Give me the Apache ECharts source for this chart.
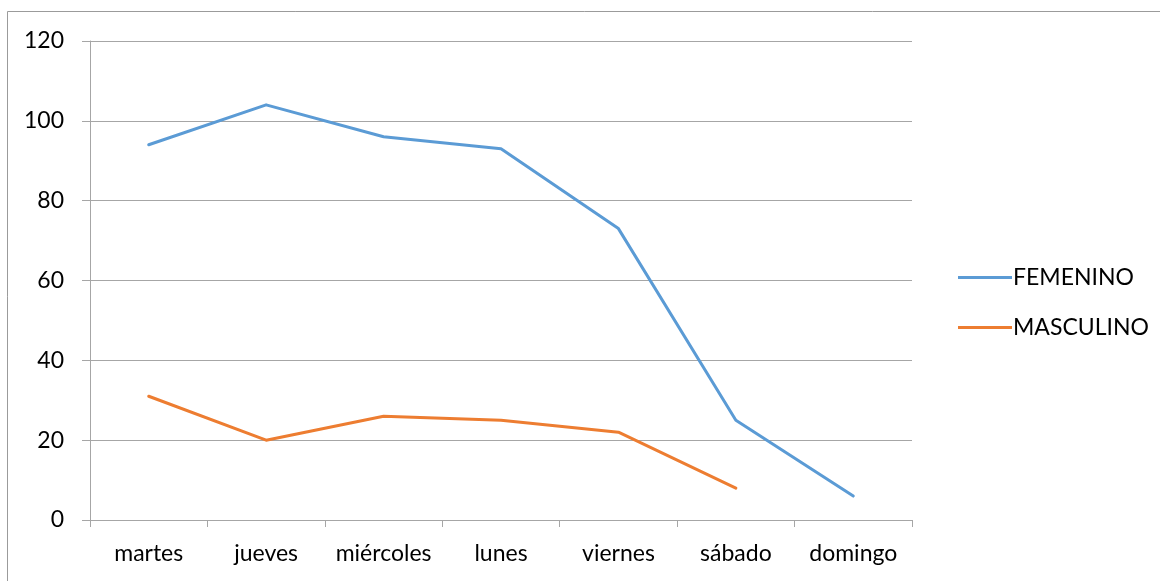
<!DOCTYPE html>
<html>
<head>
<meta charset="utf-8">
<script src="https://cdn.jsdelivr.net/npm/echarts@6/dist/echarts.min.js"></script>
<style>
  html, body { margin: 0; padding: 0; background: #fff; }
  #chart { width: 1160px; height: 581px; }
</style>
</head>
<body>
<div id="chart"></div>
<script>
// Days of the week, in the order they are plotted
const categories = ['martes', 'jueves', 'miércoles', 'lunes', 'viernes', 'sábado', 'domingo'];
const femenino = [94, 104, 96, 93, 73, 25, 6];
const masculino = [31, 20, 26, 25, 22, 8, null];
const yTicks = { min: 0, max: 120, interval: 20 };

const FONT = 'Lato, "Open Sans", sans-serif';
const FONT_SIZE = 23;
const GRID_COLOR = '#a6a6a6';

const chart = echarts.init(document.getElementById('chart'), null, { renderer: 'canvas' });

chart.setOption({
  backgroundColor: '#ffffff',
  animation: false,
  textStyle: { fontFamily: FONT },
  graphic: [{
    type: 'rect',
    shape: { x: 7.5, y: 11.5, width: 1200, height: 700 },
    style: { fill: 'none', stroke: '#9b9b9b', lineWidth: 1 },
    silent: true
  }],
  grid: { left: 90, top: 41, width: 822, height: 479, containLabel: false },
  legend: {
    orient: 'vertical',
    left: 953,
    top: 261,
    itemWidth: 54,
    itemHeight: 3,
    itemGap: 27,
    icon: 'rect',
    textStyle: { fontFamily: FONT, fontSize: FONT_SIZE, color: '#000', padding: [0, 0, 0, -4] },
    data: ['FEMENINO', 'MASCULINO']
  },
  xAxis: {
    type: 'category',
    data: categories,
    boundaryGap: true,
    axisLine: { lineStyle: { color: GRID_COLOR, width: 1 } },
    axisTick: { show: true, interval: 0, length: 7, inside: false, lineStyle: { color: GRID_COLOR } },
    axisLabel: { interval: 0, hideOverlap: false, color: '#000', fontSize: FONT_SIZE, fontFamily: FONT, margin: 22 },
    splitLine: { show: false }
  },
  yAxis: {
    type: 'value',
    min: yTicks.min,
    max: yTicks.max,
    interval: yTicks.interval,
    axisLine: { show: true, lineStyle: { color: GRID_COLOR, width: 1 } },
    axisTick: { show: true, length: 8, lineStyle: { color: GRID_COLOR } },
    axisLabel: { color: '#000', fontSize: FONT_SIZE, fontFamily: FONT, margin: 26 },
    splitLine: { show: true, lineStyle: { color: GRID_COLOR, width: 1 } }
  },
  series: [
    {
      name: 'FEMENINO',
      type: 'line',
      data: femenino,
      color: '#5b9bd5',
      showSymbol: false,
      symbol: 'none',
      lineStyle: { width: 3, color: '#5b9bd5', cap: 'round', join: 'round' }
    },
    {
      name: 'MASCULINO',
      type: 'line',
      data: masculino,
      color: '#ed7d31',
      showSymbol: false,
      symbol: 'none',
      connectNulls: false,
      lineStyle: { width: 3, color: '#ed7d31', cap: 'round', join: 'round' }
    }
  ]
});
</script>
</body>
</html>
